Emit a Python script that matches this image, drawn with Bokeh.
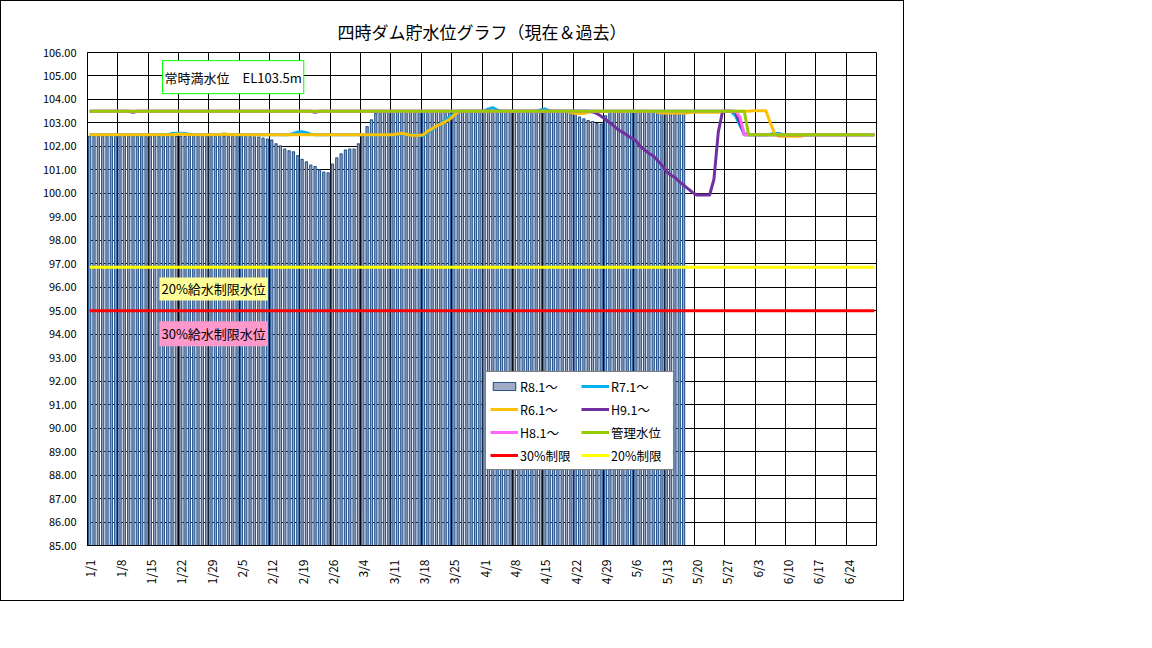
import math
import pandas as pd
from bokeh.plotting import figure
from bokeh.models import Range1d, FixedTicker, NumeralTickFormatter, Legend, LegendItem, Label
from bokeh.embed import file_html
from bokeh.resources import INLINE

FONT = "Noto Sans CJK JP"

# ---------------- data ----------------
# category axis: 1/1 - 6/30 (leap-year calendar, as in the chart: 2/26 -> 3/4)
dates = pd.date_range("2024-01-01", "2024-06-30", freq="D")
day_labels = [f"{d.month}/{d.day}" for d in dates]
days = list(range(len(dates)))
label_days = list(range(0, len(dates), 7))
y_ticks = list(range(85, 107))

title_text = "四時ダム貯水位グラフ（現在＆過去）"

# R8.1~ (bars, current year) 1/1 - 5/17
r8 = [
    102.43, 102.43, 102.43, 102.43, 102.43, 102.43, 102.43, 102.43, 102.43, 102.43,
    102.43, 102.43, 102.43, 102.43, 102.43, 102.43, 102.43, 102.43, 102.43, 102.43,
    102.43, 102.43, 102.43, 102.43, 102.43, 102.43, 102.43, 102.43, 102.43, 102.43,
    102.43, 102.43, 102.43, 102.43, 102.43, 102.43, 102.43, 102.42, 102.41, 102.40,
    102.35, 102.31, 102.27, 102.11, 102.02, 101.89, 101.81, 101.77, 101.61, 101.45,
    101.34, 101.21, 101.14, 101.00, 100.91, 100.87, 101.25, 101.51, 101.68, 101.84,
    101.89, 101.89, 102.11, 102.42, 102.85, 103.13, 103.42, 103.45, 103.45, 103.45,
    103.45, 103.45, 103.45, 103.45, 103.45, 103.45, 103.45, 103.45, 103.45, 103.45,
    103.45, 103.45, 103.45, 103.45, 103.45, 103.45, 103.45, 103.45, 103.45, 103.45,
    103.45, 103.45, 103.45, 103.45, 103.45, 103.45, 103.45, 103.45, 103.45, 103.45,
    103.45, 103.45, 103.45, 103.45, 103.45, 103.45, 103.45, 103.45, 103.45, 103.45,
    103.45, 103.45, 103.45, 103.25, 103.18, 103.10, 103.06, 102.97, 102.95, 103.30,
    103.45, 103.45, 103.45, 103.45, 103.45, 103.45, 103.45, 103.45, 103.45, 103.45,
    103.45, 103.45, 103.45, 103.45, 103.45, 103.45, 103.45, 103.45,
]

# R7.1~
r7 = [
    102.5, 102.5, 102.5, 102.5, 102.5, 102.5, 102.5, 102.5, 102.5, 102.5,
    102.5, 102.5, 102.5, 102.5, 102.5, 102.5, 102.5, 102.5, 102.5, 102.55,
    102.56, 102.56, 102.55, 102.52, 102.5, 102.5, 102.5, 102.5, 102.5, 102.5,
    102.5, 102.53, 102.5, 102.5, 102.5, 102.5, 102.5, 102.5, 102.5, 102.5,
    102.5, 102.5, 102.5, 102.5, 102.5, 102.5, 102.5, 102.55, 102.6, 102.63,
    102.58, 102.52, 102.5, 102.5, 102.5, 102.5, 102.5, 102.5, 102.5, 102.5,
    102.5, 102.5, 102.5, 102.5, 102.5, 102.5, 102.5, 102.5, 102.5, 102.5,
    102.5, 102.5, 102.55, 102.5, 102.5, 102.5, 102.48, 102.45, 102.6, 102.7,
    102.85, 102.98, 103.12, 103.25, 103.38, 103.5, 103.5, 103.5, 103.5, 103.5, 103.5,
    103.5, 103.6, 103.65, 103.55, 103.5, 103.5, 103.5, 103.5, 103.5, 103.5,
    103.5, 103.5, 103.5, 103.55, 103.6, 103.52, 103.5, 103.5, 103.5, 103.5,
    103.5, 103.5, 103.5, 103.5, 103.5, 103.5, 103.5, 103.5, 103.5, 103.5,
    103.5, 103.5, 103.5, 103.5, 103.5, 103.5, 103.5, 103.5, 103.5, 103.5,
    103.5, 103.5, 103.5, 103.5, 103.5, 103.5, 103.5, 103.5, 103.5, 103.5,
    103.5, 103.5, 103.5, 103.5, 103.5, 103.5, 103.5, 103.5, 103.3, 102.9,
    102.55, 102.5, 102.5, 102.5, 102.5, 102.5, 102.52, 102.56, 102.55, 102.5,
    102.5, 102.5, 102.5, 102.5, 102.5, 102.5, 102.5, 102.5, 102.5, 102.5,
    102.5, 102.5, 102.5, 102.5, 102.5, 102.5, 102.5, 102.5, 102.5, 102.5,
    102.5,
]

# R6.1~
r6 = [
    102.5, 102.5, 102.5, 102.5, 102.5, 102.5, 102.5, 102.5, 102.5, 102.5,
    102.5, 102.5, 102.5, 102.5, 102.5, 102.5, 102.5, 102.5, 102.5, 102.5,
    102.52, 102.53, 102.52, 102.5, 102.5, 102.5, 102.5, 102.5, 102.5, 102.5,
    102.5, 102.53, 102.5, 102.5, 102.5, 102.5, 102.5, 102.5, 102.5, 102.5,
    102.5, 102.5, 102.5, 102.5, 102.5, 102.5, 102.5, 102.5, 102.5, 102.5,
    102.5, 102.5, 102.5, 102.5, 102.5, 102.5, 102.5, 102.5, 102.5, 102.5,
    102.5, 102.5, 102.5, 102.5, 102.5, 102.5, 102.5, 102.5, 102.5, 102.5,
    102.5, 102.53, 102.56, 102.52, 102.48, 102.47, 102.47, 102.5, 102.65, 102.75,
    102.87, 102.95, 103.05, 103.15, 103.32, 103.47, 103.5, 103.5, 103.5, 103.5, 103.5,
    103.5, 103.5, 103.5, 103.5, 103.5, 103.5, 103.5, 103.5, 103.5, 103.5,
    103.5, 103.5, 103.5, 103.5, 103.5, 103.5, 103.5, 103.5, 103.5, 103.5,
    103.45, 103.4, 103.4, 103.4, 103.45, 103.5, 103.5, 103.5, 103.5, 103.5,
    103.5, 103.5, 103.5, 103.5, 103.5, 103.5, 103.5, 103.5, 103.5, 103.5,
    103.46, 103.42, 103.42, 103.42, 103.42, 103.42, 103.42, 103.42, 103.46, 103.45,
    103.45, 103.45, 103.45, 103.45, 103.45, 103.5, 103.5, 103.5, 103.5, 103.5,
    103.5, 103.5, 103.52, 103.52, 103.52, 103.52, 103.0, 102.55, 102.43, 102.43,
    102.43, 102.43, 102.43, 102.43, 102.5, 102.5, 102.5, 102.5, 102.5, 102.5,
    102.5, 102.5, 102.5, 102.5, 102.5, 102.5, 102.5, 102.5, 102.5, 102.5,
    102.5,
]

# H9.1~
h9 = [
    103.5, 103.5, 103.5, 103.5, 103.5, 103.5, 103.5, 103.5, 103.5, 103.5,
    103.45, 103.5, 103.5, 103.5, 103.5, 103.5, 103.5, 103.5, 103.5, 103.5,
    103.5, 103.5, 103.5, 103.5, 103.5, 103.5, 103.5, 103.5, 103.5, 103.5,
    103.5, 103.5, 103.5, 103.5, 103.5, 103.5, 103.5, 103.5, 103.5, 103.5,
    103.5, 103.5, 103.5, 103.5, 103.5, 103.5, 103.5, 103.5, 103.5, 103.5,
    103.5, 103.5, 103.45, 103.5, 103.5, 103.5, 103.5, 103.5, 103.5, 103.5,
    103.5, 103.5, 103.5, 103.5, 103.5, 103.5, 103.5, 103.5, 103.5, 103.5,
    103.5, 103.5, 103.5, 103.5, 103.5, 103.5, 103.5, 103.5, 103.5, 103.5,
    103.5, 103.5, 103.5, 103.5, 103.5, 103.5, 103.5, 103.5, 103.5, 103.5, 103.5,
    103.5, 103.5, 103.5, 103.5, 103.5, 103.5, 103.5, 103.5, 103.5, 103.5,
    103.5, 103.5, 103.5, 103.5, 103.5, 103.5, 103.5, 103.5, 103.5, 103.5,
    103.5, 103.5, 103.5, 103.5, 103.5, 103.47, 103.4, 103.28, 103.15, 103.0,
    102.85, 102.7, 102.6, 102.47, 102.35, 102.25, 102.0, 101.85, 101.7, 101.6,
    101.4, 101.2, 100.95, 100.78, 100.68, 100.5, 100.35, 100.2, 100.05, 99.93,
    99.93, 99.93, 99.93, 100.6, 102.6, 103.5, 103.5, 103.5, 103.45, 103.0,
    102.5, 102.5, 102.5, 102.5, 102.5, 102.5, 102.5, 102.5, 102.5, 102.5,
    102.5, 102.5, 102.5, 102.5, 102.5, 102.5, 102.5, 102.5, 102.5, 102.5,
    102.5, 102.5, 102.5, 102.5, 102.5, 102.5, 102.5, 102.5, 102.5, 102.5,
    102.5,
]

# H8.1~
h8 = [
    103.5, 103.5, 103.5, 103.5, 103.5, 103.5, 103.5, 103.5, 103.5, 103.5,
    103.5, 103.5, 103.5, 103.5, 103.5, 103.5, 103.5, 103.5, 103.5, 103.5,
    103.5, 103.5, 103.5, 103.5, 103.5, 103.5, 103.5, 103.5, 103.5, 103.5,
    103.5, 103.5, 103.5, 103.5, 103.5, 103.5, 103.5, 103.5, 103.5, 103.5,
    103.5, 103.5, 103.5, 103.5, 103.5, 103.5, 103.5, 103.5, 103.5, 103.5,
    103.5, 103.5, 103.5, 103.5, 103.5, 103.5, 103.5, 103.5, 103.5, 103.5,
    103.5, 103.5, 103.5, 103.5, 103.5, 103.5, 103.5, 103.5, 103.5, 103.5,
    103.5, 103.5, 103.5, 103.5, 103.5, 103.5, 103.5, 103.5, 103.5, 103.5,
    103.5, 103.5, 103.5, 103.5, 103.5, 103.5, 103.5, 103.5, 103.5, 103.5, 103.5,
    103.5, 103.5, 103.5, 103.5, 103.5, 103.5, 103.5, 103.5, 103.5, 103.5,
    103.5, 103.5, 103.5, 103.5, 103.5, 103.5, 103.5, 103.5, 103.5, 103.5,
    103.5, 103.5, 103.5, 103.5, 103.5, 103.5, 103.5, 103.5, 103.5, 103.5,
    103.5, 103.5, 103.5, 103.5, 103.5, 103.5, 103.5, 103.5, 103.5, 103.5,
    103.5, 103.5, 103.5, 103.5, 103.5, 103.5, 103.5, 103.5, 103.5, 103.5,
    103.5, 103.5, 103.5, 103.5, 103.5, 103.5, 103.5, 103.5, 103.5, 103.25,
    102.5, 102.5, 102.5, 102.5, 102.5, 102.5, 102.5, 102.5, 102.5, 102.5,
    102.5, 102.5, 102.5, 102.5, 102.5, 102.5, 102.5, 102.5, 102.5, 102.5,
    102.5, 102.5, 102.5, 102.5, 102.5, 102.5, 102.5, 102.5, 102.5, 102.5,
    102.5,
]

# 管理水位
kanri = [
    103.5, 103.5, 103.5, 103.5, 103.5, 103.5, 103.5, 103.5, 103.5, 103.5,
    103.5, 103.5, 103.5, 103.5, 103.5, 103.5, 103.5, 103.5, 103.5, 103.5,
    103.5, 103.5, 103.5, 103.5, 103.5, 103.5, 103.5, 103.5, 103.5, 103.5,
    103.5, 103.5, 103.5, 103.5, 103.5, 103.5, 103.5, 103.5, 103.5, 103.5,
    103.5, 103.5, 103.5, 103.5, 103.5, 103.5, 103.5, 103.5, 103.5, 103.5,
    103.5, 103.5, 103.5, 103.5, 103.5, 103.5, 103.5, 103.5, 103.5, 103.5,
    103.5, 103.5, 103.5, 103.5, 103.5, 103.5, 103.5, 103.5, 103.5, 103.5,
    103.5, 103.5, 103.5, 103.5, 103.5, 103.5, 103.5, 103.5, 103.5, 103.5,
    103.5, 103.5, 103.5, 103.5, 103.5, 103.5, 103.5, 103.5, 103.5, 103.5, 103.5,
    103.5, 103.5, 103.5, 103.5, 103.5, 103.5, 103.5, 103.5, 103.5, 103.5,
    103.5, 103.5, 103.5, 103.5, 103.5, 103.5, 103.5, 103.5, 103.5, 103.5,
    103.5, 103.5, 103.5, 103.5, 103.5, 103.5, 103.5, 103.5, 103.5, 103.5,
    103.5, 103.5, 103.5, 103.5, 103.5, 103.5, 103.5, 103.5, 103.5, 103.5,
    103.5, 103.5, 103.5, 103.5, 103.5, 103.5, 103.5, 103.5, 103.5, 103.5,
    103.5, 103.5, 103.5, 103.5, 103.5, 103.5, 103.5, 103.5, 103.5, 103.5,
    103.5, 102.5, 102.5, 102.5, 102.5, 102.5, 102.5, 102.5, 102.5, 102.5,
    102.5, 102.5, 102.5, 102.5, 102.5, 102.5, 102.5, 102.5, 102.5, 102.5,
    102.5, 102.5, 102.5, 102.5, 102.5, 102.5, 102.5, 102.5, 102.5, 102.5,
    102.5,
]

limit30 = 95.00   # 30%制限
limit20 = 96.85   # 20%制限

series_labels = ["R8.1～", "R7.1～", "R6.1～", "H9.1～", "H8.1～", "管理水位", "30%制限", "20%制限"]

# ---------------- figure ----------------
p = figure(width=902, height=599,
           x_range=Range1d(-0.5, len(days) - 0.5), y_range=Range1d(85, 106),
           output_backend="svg", toolbar_location=None,
           min_border_left=86, min_border_right=29, min_border_top=51, min_border_bottom=57,
           title=title_text)
p.styles = {"border": "1px solid black", "box-sizing": "content-box"}
p.title.align = "center"
p.title.text_font = FONT
p.title.text_font_size = "17px"
p.title.text_font_style = "normal"
p.title.text_color = "black"
p.title.standoff = 17

p.background_fill_color = "white"
p.border_fill_color = "white"
p.outline_line_color = "black"
p.outline_line_width = 1

# grid
p.xgrid.ticker = FixedTicker(ticks=[d + 6.5 for d in label_days[:-1]])
p.xgrid.grid_line_color = "black"
p.xgrid.grid_line_width = 1
p.ygrid.ticker = FixedTicker(ticks=y_ticks)
p.ygrid.grid_line_color = "black"
p.ygrid.grid_line_width = 1

# axes
p.xaxis.ticker = FixedTicker(ticks=label_days)
p.xaxis.major_label_overrides = {d: day_labels[d] for d in label_days}
p.xaxis.major_label_orientation = math.pi / 2
p.xaxis.major_label_text_font = FONT
p.xaxis.major_label_text_font_size = "12px"
p.xaxis.major_label_text_color = "black"
p.xaxis.major_label_standoff = 8
p.xaxis.major_tick_line_color = None
p.xaxis.minor_tick_line_color = None
p.xaxis.axis_line_color = "black"

p.yaxis.ticker = FixedTicker(ticks=y_ticks)
p.yaxis.formatter = NumeralTickFormatter(format="0.00")
p.yaxis.major_label_text_font = FONT
p.yaxis.major_label_text_font_size = "11px"
p.yaxis.major_label_text_color = "black"
p.yaxis.major_label_standoff = 5
p.yaxis.major_tick_line_color = None
p.yaxis.minor_tick_line_color = None
p.yaxis.axis_line_color = "black"

# bars
bars = p.vbar(x=days[:len(r8)], top=r8, bottom=85, width=0.5,
              fill_color="#A0AAC4", line_color="#2C5890", line_width=1.15)

def add_line(ys, color):
    return p.line(days, ys, line_color=color, line_width=3, line_join="round")

l_r7 = add_line(r7, "#00B0F0")
l_r6 = add_line(r6, "#FFC000")
l_h9 = add_line(h9, "#7030A0")
l_h8 = add_line(h8, "#FF66FF")
l_kanri = add_line(kanri, "#99CC00")
l_30 = add_line([limit30] * len(days), "#FF0000")
l_20 = add_line([limit20] * len(days), "#FFFF00")

renderers = [bars, l_r7, l_r6, l_h9, l_h8, l_kanri, l_30, l_20]
legend = Legend(items=[LegendItem(label=lab, renderers=[r]) for lab, r in zip(series_labels, renderers)],
                location=(398, 75), orientation="horizontal", ncols=2,
                glyph_width=28, glyph_height=10, label_width=58, label_height=20,
                label_standoff=2, spacing=3, padding=4, margin=0,
                border_line_color="black", border_line_width=1,
                background_fill_color="white", background_fill_alpha=1.0,
                label_text_font=FONT, label_text_font_size="12.5px", label_text_color="black")
p.add_layout(legend)

# text boxes
p.add_layout(Label(x=33.1, y=104.95, text="常時満水位　EL103.5m",
                   text_align="center", text_baseline="middle",
                   text_font=FONT, text_font_size="13px", text_color="black",
                   background_fill_color="white", border_line_color="#00FF00", border_line_width=1,
                   padding=dict(left=2, right=2, top=7, bottom=7)))
p.add_layout(Label(x=28.6, y=95.93, text="20%給水制限水位",
                   text_align="center", text_baseline="middle",
                   text_font=FONT, text_font_size="13px", text_color="black",
                   background_fill_color="#FFFF99", padding=dict(left=2, right=2, top=2, bottom=2)))
p.add_layout(Label(x=28.6, y=94.02, text="30%給水制限水位",
                   text_align="center", text_baseline="middle",
                   text_font=FONT, text_font_size="13px", text_color="black",
                   background_fill_color="#FF99CC", padding=dict(left=2, right=2, top=3, bottom=3)))

open("out.html", "w").write(file_html(p, INLINE))
